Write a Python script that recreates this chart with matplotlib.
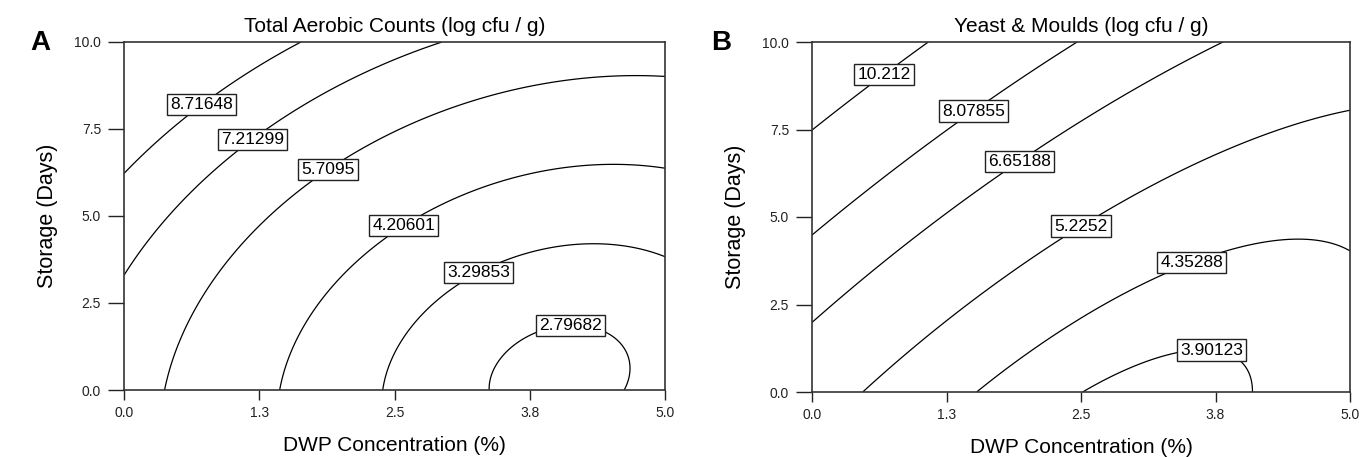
import numpy as np
import matplotlib
matplotlib.use("Agg")
import matplotlib.pyplot as plt

plt.rcParams['font.family'] = ['Liberation Sans', 'DejaVu Sans']

# contour levels shown in each panel
levels_a = [2.79682, 3.29853, 4.20601, 5.7095, 7.21299, 8.71648]
levels_b = [3.90123, 4.35288, 5.2252, 6.65188, 8.07855, 10.212]

# points (DWP %, storage days)
pts_a = {
    8.71648: ([0.0, 0.74, 1.02, 1.64], [6.21, 8.22, 8.91, 10.0]),
    7.21299: ([0.0, 0.25, 0.62, 1.17, 1.45, 2.93], [3.25, 4.31, 5.69, 7.13, 7.79, 10.0]),
    5.7095: ([0.39, 0.62, 1.13, 1.48, 1.85, 2.22, 3.14, 3.67, 4.47, 5.0],
             [0.0, 2.5, 4.28, 5.49, 6.21, 6.93, 8.22, 8.70, 9.01, 9.01]),
    4.20601: ([1.46, 1.74, 2.37, 2.52, 2.89, 3.14, 4.27, 5.0], [0.0, 2.5, 4.28, 4.54, 5.20, 5.60, 6.46, 6.37]),
    3.29853: ([2.41, 2.76, 3.22, 4.35, 4.95], [0.0, 2.10, 3.25, 4.21, 3.88]),
    2.79682: ([3.40, 3.66, 4.09, 4.55, 4.70, 4.66], [0.06, 1.44, 1.84, 1.49, 0.66, 0.0]),
}
pts_b = {
    10.212: ([0.0, 0.66, 1.06], [7.47, 9.0, 10.0]),
    8.07855: ([0.0, 0.15, 1.24, 1.53, 2.44], [4.42, 5.0, 7.48, 7.80, 10.0]),
    6.65188: ([0.0, 0.19, 1.04, 1.97, 3.77], [1.92, 2.52, 5.01, 6.35, 10.0]),
    5.2252: ([0.52, 1.37, 2.74, 3.63, 5.0], [0.0, 2.51, 5.26, 6.92, 7.99]),
    4.35288: ([1.56, 2.49, 3.23, 3.73, 4.38, 4.99, 4.99], [0.0, 2.11, 3.31, 3.91, 4.26, 3.57, 3.57]),
    3.90123: ([2.49, 3.26, 3.84, 4.00, 4.00], [0.0, 0.97, 0.89, 0.0, 0.0]),
    4.2: ([5.0], [0.0]),  # bottom right corner, between the two lowest lines
}

# where the boxed labels sit
lab_a = [(4.13, 1.9), (3.26, 3.5), (2.57, 4.8), (1.87, 6.4), (1.19, 7.2), (0.74, 8.1)]
lab_b = [(3.71, 1.0), (3.55, 3.55), (2.48, 4.85), (1.97, 6.4), (1.53, 7.9), (0.66, 9.1)]

titles = ['Total Aerobic Counts (log cfu / g)', 'Yeast & Moulds (log cfu / g)']
xticks = [0.0, 1.25, 2.5, 3.75, 5.0]
xticklabels = ['0.0', '1.3', '2.5', '3.8', '5.0']
yticks = [0.0, 2.5, 5.0, 7.5, 10.0]
yticklabels = ['0.0', '2.5', '5.0', '7.5', '10.0']


def fit_surface(pts):
    # second order response surface through the read contour points
    xs, ys, zs = [], [], []
    for lev, (px, py) in pts.items():
        xs += px
        ys += py
        zs += [lev] * len(px)
    xs = np.array(xs)
    ys = np.array(ys)
    A = np.column_stack([np.ones_like(xs), xs, ys, xs**2, ys**2, xs * ys])
    coef, *_ = np.linalg.lstsq(A, np.array(zs), rcond=None)
    return coef


def draw(ax, pts, levels, labpos, title):
    c = fit_surface(pts)
    gx, gy = np.meshgrid(np.linspace(0, 5, 300), np.linspace(0, 10, 300))
    gz = c[0] + c[1]*gx + c[2]*gy + c[3]*gx**2 + c[4]*gy**2 + c[5]*gx*gy
    cs = ax.contour(gx, gy, gz, levels=levels, colors='black', linewidths=0.9)
    txts = ax.clabel(cs, levels, inline=False, fontsize=12.5, manual=labpos,
                     fmt=lambda v: ('%.6g' % v))
    for t in txts:
        t.set_rotation(0)
        t.set_bbox(dict(boxstyle='square,pad=0.18', facecolor='white',
                        edgecolor='#222222', linewidth=1.0))
        t.set_zorder(5)
    ax.set_xlim(0, 5)
    ax.set_ylim(0, 10)
    ax.set_xticks(xticks)
    ax.set_xticklabels(xticklabels)
    ax.set_yticks(yticks)
    ax.set_yticklabels(yticklabels)
    ax.tick_params(axis='x', direction='out', length=7.2, width=1, labelsize=10, pad=4, colors='#222222')
    ax.tick_params(axis='y', direction='out', length=11.5, width=1, labelsize=10, pad=5, colors='#222222')
    for s in ax.spines.values():
        s.set_linewidth(1.2)
        s.set_color('#333333')
    ax.set_title(title, fontsize=15, pad=7)
    ax.set_xlabel('DWP Concentration (%)', fontsize=15, labelpad=12)
    ax.set_ylabel('Storage (Days)', fontsize=15.5, labelpad=12)


fig = plt.figure(figsize=(13.62, 4.57), dpi=100)
ax1 = fig.add_axes([124/1362, 67/457, 541/1362, 348/457])
ax2 = fig.add_axes([812/1362, 65/457, 538/1362, 350/457])

draw(ax1, pts_a, levels_a, lab_a, titles[0])
draw(ax2, pts_b, levels_b, lab_b, titles[1])

fig.text(40/1362, 1 - 43/457, 'A', fontsize=20, fontweight='bold', ha='center', va='center')
fig.text(721/1362, 1 - 43/457, 'B', fontsize=20, fontweight='bold', ha='center', va='center')

fig.savefig('out.png', dpi=100)
